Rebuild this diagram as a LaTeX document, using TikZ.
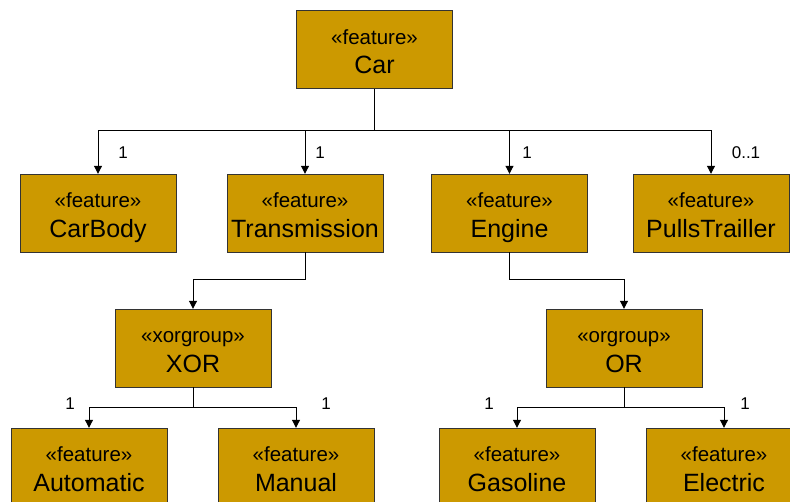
\documentclass[tikz,border=0pt]{standalone}
\usepackage{fontspec}
\setmainfont{Liberation Sans}
\usetikzlibrary{arrows.meta}

\tikzset{
  feat/.style={draw=black!80, fill=featgold, minimum width=156pt, minimum height=78pt,
    inner sep=0pt, align=center},
  link/.style={line width=1pt, -{Triangle[length=8pt,width=8pt]}},
  mult/.style={font=\fontsize{17}{20}\selectfont}
}
\definecolor{featgold}{HTML}{CC9900}
\newcommand{\stereo}[2]{{\fontsize{20.5}{22}\selectfont\rule{0pt}{27.4pt}\strut«#1»}\\[3pt]{\fontsize{25}{27}\selectfont\strut #2}}

\begin{document}
\begin{tikzpicture}[x=1pt,y=-1pt]
\clip (0,0) rectangle (790,502);
\fill[white] (0,0) rectangle (790,502);

\node[feat] (car)     at (374.5,49.5) {\stereo{feature}{Car}};
\node[feat] (body)    at (98,213)   {\stereo{feature}{CarBody}};
\node[feat] (trans)   at (305,213)  {\stereo{feature}{Transmission}};
\node[feat] (engine)  at (509.5,213){\stereo{feature}{Engine}};
\node[feat] (trailer) at (711,213)  {\stereo{feature}{PullsTrailler}};
\node[feat] (xor)     at (193,348)  {\stereo{xorgroup}{XOR}};
\node[feat] (or)      at (624,348)  {\stereo{orgroup}{OR}};
\node[feat] (auto)    at (89,467)   {\stereo{feature}{Automatic}};
\node[feat] (manual)  at (296,467)  {\stereo{feature}{Manual}};
\node[feat] (gas)     at (517,467)  {\stereo{feature}{Gasoline}};
\node[feat] (elec)    at (724,467)  {\stereo{feature}{Electric}};

% bends of the connectors
\coordinate (bus) at (374.5,131);
\coordinate (tx)  at (305,280);
\coordinate (ex)  at (509.5,280);
\coordinate (xb)  at (193,408);
\coordinate (ob)  at (624,408);

\draw[line width=1pt] (car) -- (bus);
\foreach \n in {body,trans,engine,trailer}
  \draw[link] (bus) -| (\n);
\draw[link] (trans) -- (tx) -| (xor);
\draw[link] (engine) -- (ex) -| (or);
\draw[line width=1pt] (xor) -- (xb);
\draw[line width=1pt] (or) -- (ob);
\foreach \n in {auto,manual}
  \draw[link] (xb) -| (\n);
\foreach \n in {gas,elec}
  \draw[link] (ob) -| (\n);

% multiplicities
\node[mult] (m1) at (123,153) {1};
\node[mult] (m2) at (320,153) {1};
\node[mult] (m3) at (527,153) {1};
\node[mult] (m4) at (746,153) {0..1};
\node[mult] (m5) at (70,404)  {1};
\node[mult] (m6) at (326,404) {1};
\node[mult] (m7) at (489,404) {1};
\node[mult] (m8) at (745,404) {1};
\end{tikzpicture}
\end{document}
